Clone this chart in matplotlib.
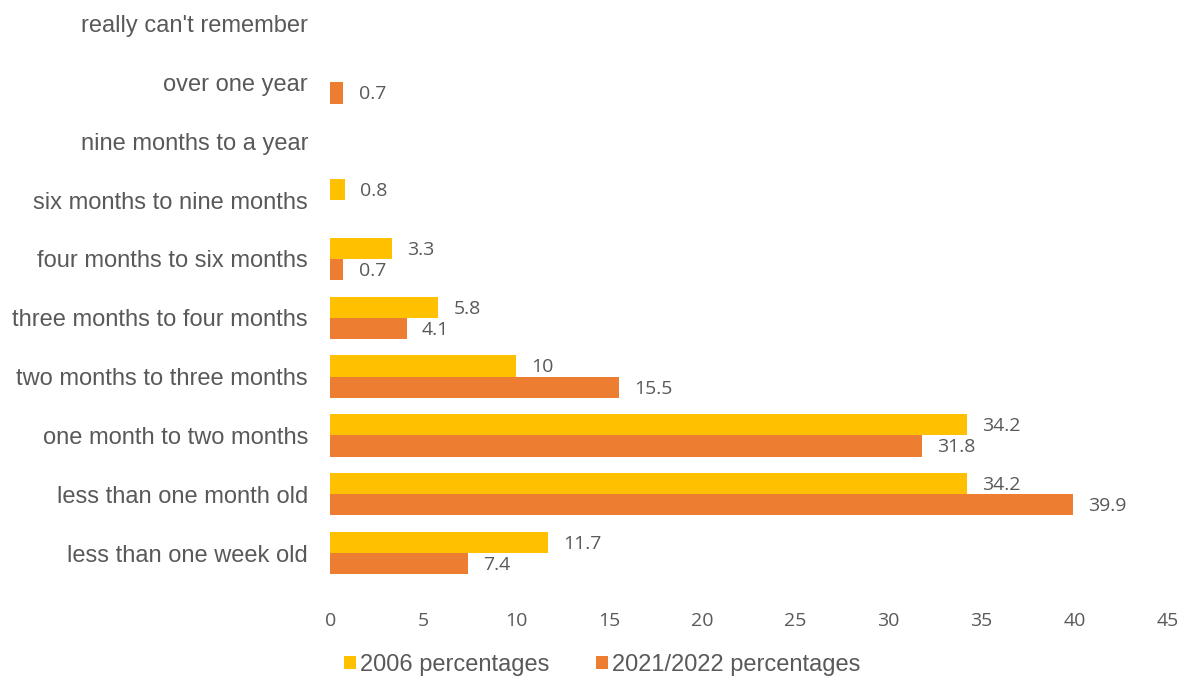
import numpy as np
import matplotlib.pyplot as plt

# categories bottom to top
categories = ["less than one week old", "less than one month old", "one month to two months",
              "two months to three months", "three months to four months", "four months to six months",
              "six months to nine months", "nine months to a year", "over one year",
              "really can't remember"]
pct_2006 = [11.7, 34.2, 34.2, 10, 5.8, 3.3, 0.8, np.nan, np.nan, np.nan]
pct_2022 = [7.4, 39.9, 31.8, 15.5, 4.1, 0.7, np.nan, np.nan, 0.7, np.nan]
xticks = [0, 5, 10, 15, 20, 25, 30, 35, 40, 45]

c_2006 = '#FFC000'
c_2022 = '#ED7D31'
grey = '#595959'

fig = plt.figure(figsize=(11.88, 6.8), dpi=100)
ax = fig.add_axes([0.278, 0.1435, 0.705, 0.865])

y = np.arange(len(categories))
h = 0.36
b1 = ax.barh(y + h/2, pct_2006, height=h, color=c_2006, label='2006 percentages')
b2 = ax.barh(y - h/2, pct_2022, height=h, color=c_2022, label='2021/2022 percentages')

for bars, vals in [(b1, pct_2006), (b2, pct_2022)]:
    for bar, v in zip(bars, vals):
        if np.isnan(v):
            continue
        ax.annotate('%g' % v, (v, bar.get_y() + bar.get_height()/2),
                    xytext=(11, -1), textcoords='offset points', va='center', ha='left',
                    fontsize=14, family='Open Sans', color=grey)

ax.set_xlim(0, 45)
ax.set_ylim(-0.5, len(categories) - 0.5)
ax.set_xticks(xticks)
ax.set_xticklabels([str(t) for t in xticks], family='Open Sans', fontsize=14, color=grey)
ax.set_yticks(y)
ax.set_yticklabels(categories, family='Liberation Sans', fontsize=17, color=grey)
ax.tick_params(axis='x', length=0, pad=21)
ax.tick_params(axis='y', length=0, pad=16)
for s in ax.spines.values():
    s.set_visible(False)

fig.legend(handles=[b1, b2], loc='center', bbox_to_anchor=(0.507, 0.022), ncol=2, frameon=False,
           prop={'family': 'Liberation Sans', 'size': 17}, labelcolor=grey,
           handlelength=0.5, handleheight=0.5, handletextpad=0.15, columnspacing=2.0)

fig.savefig('out.png', dpi=100)
